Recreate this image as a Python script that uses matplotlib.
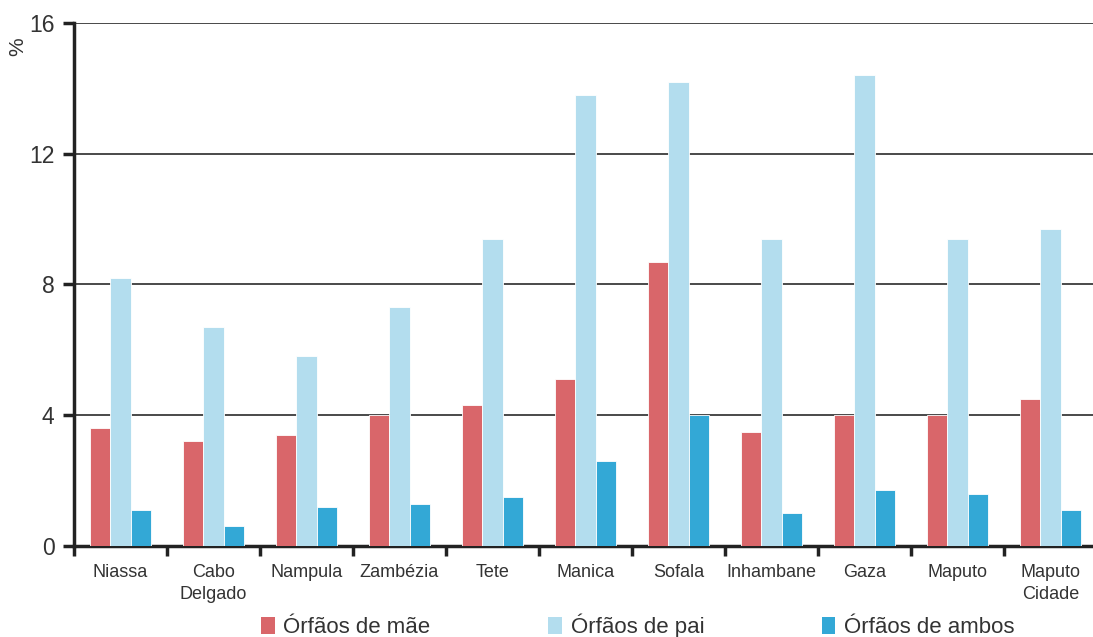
import numpy as np
import matplotlib.pyplot as plt
from matplotlib.patches import Patch

plt.rcParams['font.family'] = ['Liberation Sans', 'DejaVu Sans']

provincias = ['Niassa', 'Cabo\nDelgado', 'Nampula', 'Zambézia', 'Tete', 'Manica',
              'Sofala', 'Inhambane', 'Gaza', 'Maputo', 'Maputo\nCidade']
orfaos_mae = [3.6, 3.2, 3.4, 4.0, 4.3, 5.1, 8.7, 3.5, 4.0, 4.0, 4.5]
orfaos_pai = [8.2, 6.7, 5.8, 7.3, 9.4, 13.8, 14.2, 9.4, 14.4, 9.4, 9.7]
orfaos_ambos = [1.1, 0.6, 1.2, 1.3, 1.5, 2.6, 4.0, 1.0, 1.7, 1.6, 1.1]

series = ['Órfãos de mãe', 'Órfãos de pai', 'Órfãos de ambos']
cores = ['#D9666A', '#B3DDEE', '#33A8D6']

fig = plt.figure(figsize=(10.93, 6.37), dpi=100)
ax = fig.add_axes([74 / 1093, 91 / 637, 1023 / 1093, 523 / 637])

x = np.arange(len(provincias))
w = 0.22
for i, (vals, cor) in enumerate(zip([orfaos_mae, orfaos_pai, orfaos_ambos], cores)):
    ax.bar(x + (i - 1) * w, vals, width=w, color=cor, edgecolor='white',
           linewidth=0.6, zorder=3)

ax.set_xlim(-0.5, len(provincias) - 0.5)
ax.set_ylim(0, 16)
ax.set_yticks([0, 4, 8, 12, 16])
ax.yaxis.grid(True, color='#3a3a3a', linewidth=1.3, zorder=0)
ax.tick_params(axis='y', length=8, width=2.5, colors='#222222', labelsize=16.5,
               labelcolor='#333333', pad=6)

# category boundaries get the tick marks, names sit at the centres
ax.set_xticks(np.arange(len(provincias) + 1) - 0.5)
ax.set_xticklabels([])
ax.tick_params(axis='x', which='major', length=7, width=2.5, colors='#222222',
               direction='out')
ax.set_xticks(x, minor=True)
ax.set_xticklabels(provincias, minor=True, fontsize=13, color='#333333',
                   linespacing=1.35)
ax.tick_params(axis='x', which='minor', length=0, pad=13)

for s in ['top', 'right']:
    ax.spines[s].set_visible(False)
for s in ['left', 'bottom']:
    ax.spines[s].set_linewidth(2.5)
    ax.spines[s].set_color('#222222')
ax.spines['left'].set_zorder(4)

fig.text(18 / 1093, 1 - 47 / 637, '%', rotation=90, fontsize=15,
         color='#333333', ha='center', va='center')

handles = [Patch(facecolor=c, edgecolor='none') for c in cores]
fig.legend(handles, series, loc='center', ncol=3, frameon=False,
           bbox_to_anchor=(638 / 1093, 1 - 626 / 637), fontsize=16,
           handlelength=0.6, handleheight=0.75, handletextpad=0.4,
           columnspacing=5.3, labelcolor='#333333')

fig.savefig('out.png', dpi=100)
